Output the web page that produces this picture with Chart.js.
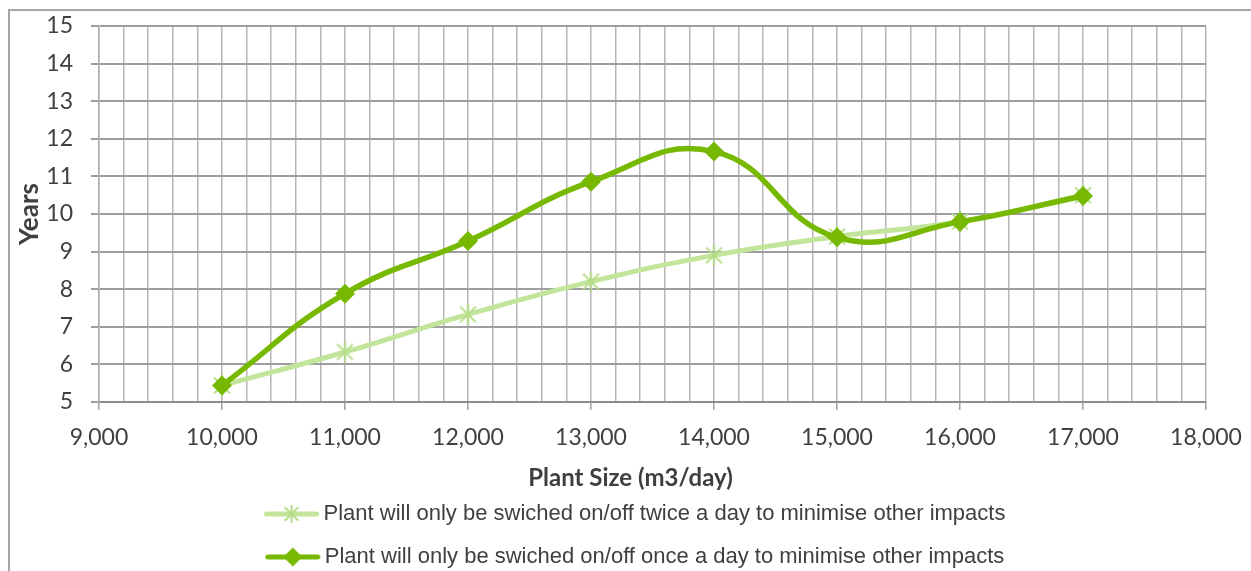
<!DOCTYPE html>
<html lang="en">
<head>
<meta charset="UTF-8">
<title>Years vs Plant Size</title>
<script src="https://cdn.jsdelivr.net/npm/chart.js@4.4.1/dist/chart.umd.min.js"></script>
<style>
    html, body { margin: 0; padding: 0; background: #fff; overflow: hidden; }
    #wrap { position: relative; width: 1251px; height: 571px; }
    #frame { position: absolute; left: 8px; top: 9px; width: 1270px; height: 620px; border: 2px solid #a6a6a6; box-sizing: border-box; }
    canvas { position: absolute; left: 0; top: 0; }
</style>
</head>
<body>
<div id="wrap">
    <div id="frame"></div>
    <canvas id="chart" width="1251" height="571"></canvas>
</div>

<script>
    const plantSize = [10000, 11000, 12000, 13000, 14000, 15000, 16000, 17000];
    const twiceADay = [5.44, 6.33, 7.33, 8.2, 8.9, 9.4, 9.8, 10.5];
    const onceADay = [5.44, 7.88, 9.28, 10.86, 11.66, 9.38, 9.79, 10.48];
    const seriesNames = [
        'Plant will only be swiched on/off twice a day to minimise other impacts',
        'Plant will only be swiched on/off once a day to minimise other impacts'
    ];
    const xTitle = 'Plant Size (m3/day)';
    const yTitle = 'Years';

    const darkGreen = '#77b900';
    const lightGreen = '#c3e59b';
    const lightMarker = '#b4dd86';
    const textColor = '#3f3f3f';

    // excel style "star" marker: an X with a vertical bar
    function starMarker(size, color) {
        const c = document.createElement('canvas');
        c.width = size; c.height = size;
        const g = c.getContext('2d');
        const m = size / 2, r = size / 2 - 1;
        g.strokeStyle = color;
        g.lineWidth = 2;
        g.beginPath();
        g.moveTo(m, m - r); g.lineTo(m, m + r);
        g.moveTo(m - r * 0.75, m - r * 0.75); g.lineTo(m + r * 0.75, m + r * 0.75);
        g.moveTo(m + r * 0.75, m - r * 0.75); g.lineTo(m - r * 0.75, m + r * 0.75);
        g.stroke();
        return c;
    }

    // legend sample: a short line with the marker in the middle
    function legendGlyph(color, marker, width, left) {
        const c = document.createElement('canvas');
        c.width = width; c.height = 24;
        const g = c.getContext('2d');
        g.strokeStyle = color;
        g.lineWidth = 5;
        g.lineCap = 'round';
        g.beginPath();
        g.moveTo(left + 3, 12);
        g.lineTo(left + 53, 12);
        g.stroke();
        if (marker === 'diamond') {
            g.fillStyle = darkGreen;
            g.beginPath();
            g.moveTo(left + 28, 2.5); g.lineTo(left + 37.5, 12);
            g.lineTo(left + 28, 21.5); g.lineTo(left + 18.5, 12);
            g.closePath();
            g.fill();
        } else {
            g.drawImage(starMarker(20, lightMarker), left + 18, 2);
        }
        return c;
    }

    const legendBox = 103;
    const glyphs = [
        legendGlyph(lightGreen, 'star', 120, 62.5),
        legendGlyph(darkGreen, 'diamond', 120, 62.5)
    ];

    const xTitlePlugin = {
        id: 'xTitle',
        afterDraw(chart) {
            const {ctx, chartArea} = chart;
            ctx.save();
            ctx.font = 'bold 24px Lato';
            ctx.fillStyle = textColor;
            ctx.textAlign = 'center';
            ctx.textBaseline = 'middle';
            ctx.fillText(xTitle, (chartArea.left + chartArea.right) / 2 - 22, chartArea.bottom + 76);
            ctx.restore();
        }
    };

    const ctx = document.getElementById('chart').getContext('2d');
    const chart = new Chart(ctx, {
        type: 'line',
        data: {
            datasets: [{
                label: seriesNames[0],
                data: plantSize.map((x, i) => ({x: x, y: twiceADay[i]})),
                borderColor: lightGreen,
                borderWidth: 5,
                pointStyle: starMarker(23, lightMarker),
                pointRadius: 11,
                tension: 0.45,
                order: 1
            }, {
                label: seriesNames[1],
                data: plantSize.map((x, i) => ({x: x, y: onceADay[i]})),
                borderColor: darkGreen,
                backgroundColor: darkGreen,
                borderWidth: 5.5,
                pointStyle: 'rectRot',
                pointRadius: 10,
                pointBorderWidth: 0,
                tension: 0.45,
                order: 0
            }]
        },
        options: {
            responsive: false,
            animation: false,
            devicePixelRatio: 1,
            layout: {padding: {top: 26, left: 9, right: 45, bottom: -7}},
            scales: {
                x: {
                    type: 'linear',
                    min: 9000,
                    max: 18000,
                    afterFit: s => {
                        s.height = 80;
                        s.paddingLeft = 0;
                        s.paddingRight = 0;
                    },
                    ticks: {
                        stepSize: 200,
                        autoSkip: false,
                        maxRotation: 0,
                        padding: 14,
                        color: textColor,
                        font: {family: 'Lato', size: 23},
                        callback: v => v % 1000 === 0 ? v.toLocaleString('en-US') : ''
                    },
                    grid: {
                        color: '#b6b6b6',
                        lineWidth: 1.5,
                        tickLength: 8,
                        tickColor: c => c.tick && c.tick.value % 1000 === 0 ? '#a0a0a0' : 'rgba(0,0,0,0)'
                    },
                    border: {color: '#8c8c8c', width: 2}
                },
                y: {
                    min: 5,
                    max: 15,
                    afterFit: s => {
                        s.width = 90;
                        s.paddingTop = 0;
                        s.paddingBottom = 0;
                    },
                    ticks: {
                        stepSize: 1,
                        padding: 18,
                        color: textColor,
                        font: {family: 'Lato', size: 23}
                    },
                    grid: {color: '#9e9e9e', lineWidth: 2, tickLength: 8},
                    border: {color: '#b0b0b0', width: 1.5},
                    title: {
                        display: true,
                        text: yTitle,
                        color: textColor,
                        font: {family: 'Lato', size: 26, weight: 'bold'},
                        padding: {top: 5, bottom: 0}
                    }
                }
            },
            plugins: {
                tooltip: {enabled: false},
                legend: {
                    position: 'bottom',
                    labels: {
                        usePointStyle: true,
                        pointStyleWidth: legendBox,
                        padding: 21,
                        color: textColor,
                        font: {family: "'Liberation Sans', Arial", size: 22},
                        generateLabels: ch => ch.data.datasets.map((ds, i) => ({
                            text: ds.label,
                            pointStyle: glyphs[i],
                            datasetIndex: i,
                            hidden: false,
                            fontColor: textColor,
                            lineWidth: 0
                        }))
                    }
                }
            }
        },
        plugins: [xTitlePlugin]
    });
</script>
</body>
</html>
